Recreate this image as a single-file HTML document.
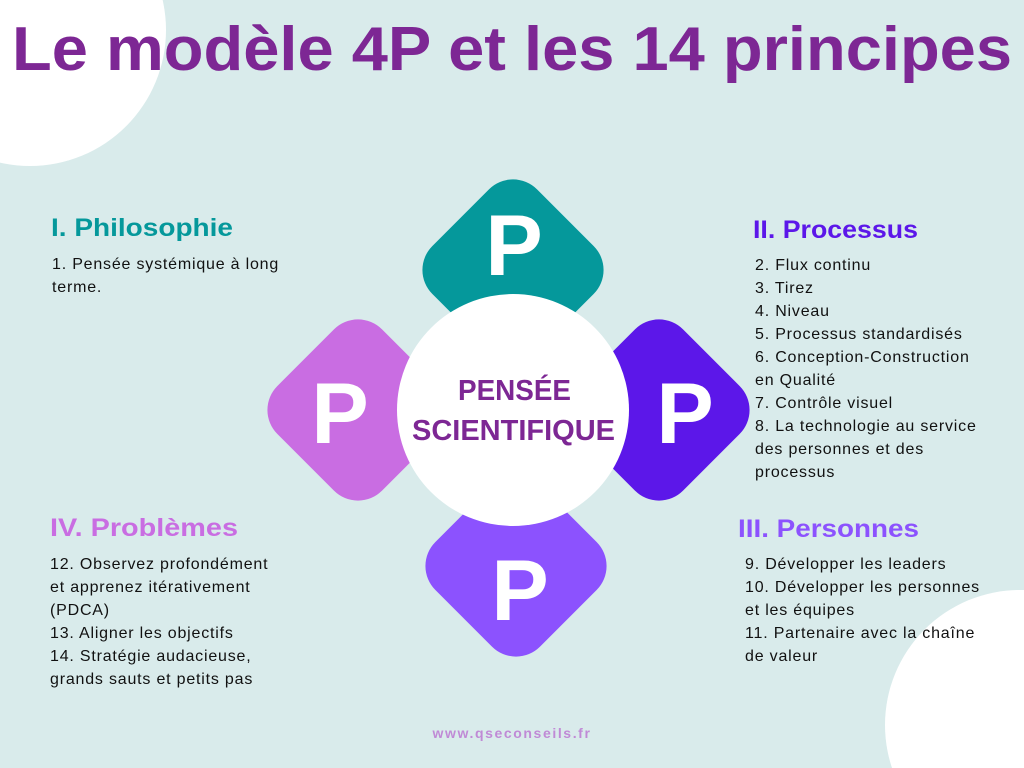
<!DOCTYPE html>
<html><head><meta charset="utf-8"><style>
html,body{margin:0;padding:0;width:1024px;height:768px;overflow:hidden;background:#d9ebeb}
svg{display:block}
text{font-family:"Liberation Sans",sans-serif}
</style></head><body>
<svg width="1024" height="768" viewBox="0 0 1024 768">
<rect width="1024" height="768" fill="#d9ebeb"/>
<circle cx="30" cy="30" r="136" fill="#fff"/>
<circle cx="1020" cy="725" r="135" fill="#fff"/>
<text x="12" y="70" textLength="1000" lengthAdjust="spacingAndGlyphs" font-size="62" font-weight="bold" fill="#7d2794">Le modèle 4P et les 14 principes</text>

<g><rect x="-74" y="-74" width="148" height="148" rx="34" fill="#05989b" transform="translate(513,270) rotate(45)"/></g>
<g><rect x="-74" y="-74" width="148" height="148" rx="34" fill="#c96de2" transform="translate(358,410) rotate(45)"/></g>
<g><rect x="-74" y="-74" width="148" height="148" rx="34" fill="#5c17e9" transform="translate(659,410) rotate(45)"/></g>
<g><rect x="-74" y="-74" width="148" height="148" rx="34" fill="#8c52fe" transform="translate(516,566) rotate(45)"/></g>
<circle cx="513" cy="410" r="116" fill="#fff"/>

<g font-size="86" font-weight="bold" fill="#fff" text-anchor="middle">
<text x="514" y="275">P</text>
<text x="340" y="443">P</text>
<text x="685" y="443">P</text>
<text x="520" y="620">P</text>
</g>
<g font-size="29" font-weight="bold" fill="#7d2794">
<text x="458" y="400" textLength="113" lengthAdjust="spacingAndGlyphs">PENSÉE</text>
<text x="412" y="440" textLength="203" lengthAdjust="spacingAndGlyphs">SCIENTIFIQUE</text>
</g>

<g font-size="25" font-weight="bold">
<text x="51" y="236" textLength="182" lengthAdjust="spacingAndGlyphs" fill="#05989b">I. Philosophie</text>
<text x="753" y="238" textLength="165" lengthAdjust="spacingAndGlyphs" fill="#5c17e9">II. Processus</text>
<text x="50" y="536" textLength="188" lengthAdjust="spacingAndGlyphs" fill="#c96de2">IV. Problèmes</text>
<text x="738" y="537" textLength="181" lengthAdjust="spacingAndGlyphs" fill="#8c52fe">III. Personnes</text>
</g>

<g font-size="16" fill="#111" letter-spacing="0.8">
<g>
<text x="52" y="269">1. Pensée systémique à long</text>
<text x="52" y="292">terme.</text>
</g>
<g>
<text x="755" y="270">2. Flux continu</text>
<text x="755" y="293">3. Tirez</text>
<text x="755" y="316">4. Niveau</text>
<text x="755" y="339">5. Processus standardisés</text>
<text x="755" y="362">6. Conception-Construction</text>
<text x="755" y="385">en Qualité</text>
<text x="755" y="408">7. Contrôle visuel</text>
<text x="755" y="431">8. La technologie au service</text>
<text x="755" y="454">des personnes et des</text>
<text x="755" y="477">processus</text>
</g>
<g>
<text x="50" y="569">12. Observez profondément</text>
<text x="50" y="592">et apprenez itérativement</text>
<text x="50" y="615">(PDCA)</text>
<text x="50" y="638">13. Aligner les objectifs</text>
<text x="50" y="661">14. Stratégie audacieuse,</text>
<text x="50" y="684">grands sauts et petits pas</text>
</g>
<g>
<text x="745" y="569">9. Développer les leaders</text>
<text x="745" y="592">10. Développer les personnes</text>
<text x="745" y="615">et les équipes</text>
<text x="745" y="638">11. Partenaire avec la chaîne</text>
<text x="745" y="661">de valeur</text>
</g>
</g>
<text x="512" y="738" text-anchor="middle" font-size="14" font-weight="bold" letter-spacing="1.6" fill="#c08ad6">www.qseconseils.fr</text>
</svg>
</body></html>
